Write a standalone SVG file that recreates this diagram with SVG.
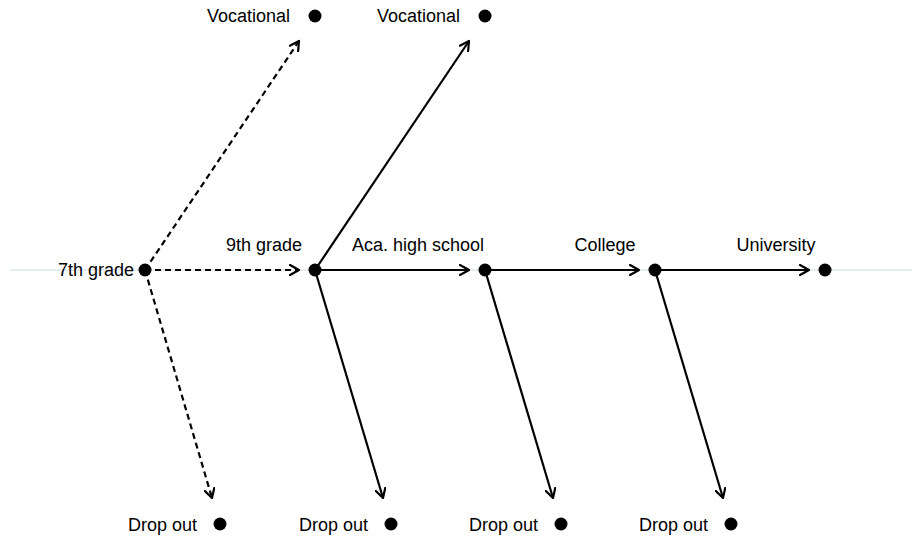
<svg xmlns="http://www.w3.org/2000/svg" width="915" height="540" viewBox="0 0 915 540">
<defs>
<marker id="ah" viewBox="0 0 12 12" refX="10" refY="6" markerWidth="12" markerHeight="12" markerUnits="userSpaceOnUse" orient="auto">
<path d="M1,1 L10,6 L1,11" fill="none" stroke="#000" stroke-width="2.2" stroke-linecap="round" stroke-linejoin="round"/>
</marker>
</defs>
<style>
text{font-family:"Liberation Sans",Arial,sans-serif;font-size:18px;fill:#000}
.dot{fill:#000}
.e{stroke:#000;stroke-width:2.2;fill:none;marker-end:url(#ah)}
.d{stroke-dasharray:6,4}
</style>
<rect width="915" height="540" fill="#fff"/>
<line x1="10" y1="270" x2="912" y2="270" stroke="#e6edf0" stroke-width="2"/>
<g id="connectors">
<line class="e d" x1="145" y1="270" x2="299" y2="270"/>
<line class="e d" x1="145" y1="270" x2="299" y2="41"/>
<line class="e d" x1="145" y1="270" x2="212" y2="498"/>
<line class="e" x1="315" y1="270" x2="469" y2="41"/>
<line class="e" x1="315" y1="270" x2="383" y2="498"/>
<line class="e" x1="315" y1="270" x2="469" y2="270"/>
<line class="e" x1="485" y1="270" x2="553" y2="498"/>
<line class="e" x1="485" y1="270" x2="639" y2="270"/>
<line class="e" x1="655" y1="270" x2="723" y2="498"/>
<line class="e" x1="655" y1="270" x2="809" y2="270"/>
</g>
<g id="n7"><circle class="dot" cx="145" cy="270" r="6.5"/><text x="134" y="276" text-anchor="end">7th grade</text></g>
<g id="n9"><circle class="dot" cx="315" cy="270" r="6.5"/><text x="264" y="251" text-anchor="middle">9th grade</text></g>
<g id="naca"><circle class="dot" cx="485" cy="270" r="6.5"/><text x="418" y="251" text-anchor="middle">Aca. high school</text></g>
<g id="ncol"><circle class="dot" cx="655" cy="270" r="6.5"/><text x="605" y="251" text-anchor="middle">College</text></g>
<g id="nuni"><circle class="dot" cx="825" cy="270" r="6.5"/><text x="776" y="251" text-anchor="middle">University</text></g>
<g id="voc1"><circle class="dot" cx="315" cy="16" r="6.5"/><text x="290" y="22" text-anchor="end">Vocational</text></g>
<g id="voc2"><circle class="dot" cx="485" cy="16" r="6.5"/><text x="460" y="22" text-anchor="end">Vocational</text></g>
<g id="drop1"><circle class="dot" cx="220" cy="524" r="6.5"/><text x="197" y="531" text-anchor="end">Drop out</text></g>
<g id="drop2"><circle class="dot" cx="391" cy="524" r="6.5"/><text x="368" y="531" text-anchor="end">Drop out</text></g>
<g id="drop3"><circle class="dot" cx="561" cy="524" r="6.5"/><text x="538" y="531" text-anchor="end">Drop out</text></g>
<g id="drop4"><circle class="dot" cx="731" cy="524" r="6.5"/><text x="708" y="531" text-anchor="end">Drop out</text></g>
</svg>
